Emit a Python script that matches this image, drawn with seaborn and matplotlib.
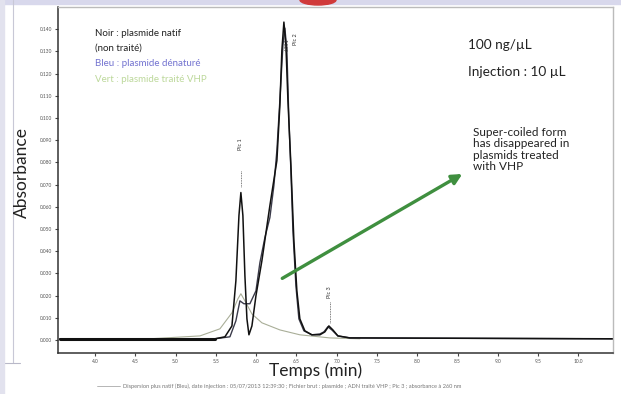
import numpy as np
import pandas as pd
import matplotlib
matplotlib.use("Agg")
import matplotlib.pyplot as plt
from matplotlib.patches import Rectangle, Ellipse
from matplotlib.lines import Line2D
import seaborn as sns

# ─── DATA ────────────────────────────────────────────────────────────────────

# native plasmid (black)
t_native = [3.566, 5.489, 5.613, 5.700, 5.749, 5.787, 5.811, 5.836, 5.861, 5.886,
            5.911, 5.948, 5.998, 6.072, 6.171, 6.258, 6.295, 6.320, 6.345, 6.370,
            6.395, 6.432, 6.469, 6.506, 6.543, 6.605, 6.692, 6.792, 6.853, 6.903,
            6.953, 7.015, 7.164, 10.43]
a_native = [0.0005, 0.0005, 0.0014, 0.0063, 0.0266, 0.0560, 0.0664, 0.0560, 0.0289, 0.0095,
            0.0023, 0.0063, 0.0199, 0.0357, 0.0605, 0.0808, 0.1057, 0.1305, 0.1432, 0.1328,
            0.1080, 0.0786, 0.0447, 0.0221, 0.0095, 0.0041, 0.0023, 0.0023, 0.0036, 0.0063,
            0.0045, 0.0018, 0.0009, 0.0005]

# treated plasmid (dark blue-grey)
t_treated = [3.566, 5.489, 5.675, 5.749, 5.799, 5.848, 5.923, 5.998, 6.047, 6.109,
             6.171, 6.221, 6.258, 6.295, 6.333, 6.357, 6.382, 6.407, 6.432, 6.457,
             6.494, 6.531, 6.593, 6.692, 6.792, 6.841, 6.891, 6.940, 7.015, 7.164, 10.43]
a_treated = [0.0005, 0.0005, 0.0014, 0.0086, 0.0176, 0.0163, 0.0163, 0.0221, 0.0348, 0.0461,
             0.0551, 0.0696, 0.0854, 0.1080, 0.1328, 0.1405, 0.1305, 0.0989, 0.0763, 0.0492,
             0.0244, 0.0095, 0.0041, 0.0023, 0.0027, 0.0036, 0.0059, 0.0045, 0.0018, 0.0009,
             0.0005]

# third trace (light green-grey)
t_light = [4.682, 5.303, 5.551, 5.700, 5.774, 5.811, 5.861, 5.948, 6.072, 6.295,
           6.543, 6.915, 7.288]
a_light = [0.0005, 0.0018, 0.0050, 0.0122, 0.0185, 0.0208, 0.0176, 0.0117, 0.0077, 0.0045,
           0.0023, 0.0009, 0.0005]

x_ticks = [4.0, 4.5, 5.0, 5.5, 6.0, 6.5, 7.0, 7.5, 8.0, 8.5, 9.0, 9.5, 10.0]
y_ticks = [0.00, 0.01, 0.02, 0.03, 0.04, 0.05, 0.06, 0.07, 0.08, 0.09,
           0.10, 0.11, 0.12, 0.13, 0.14]

legend_lines = ["Noir : plasmide natif", "(non traité)",
                "Bleu : plasmide dénaturé", "Vert : plasmide traité VHP"]
legend_colors = ["#222222", "#222222", "#7373d0", "#bcd89a"]

# ─── FIGURE ──────────────────────────────────────────────────────────────────

sns.set_theme(style="white")
plt.rcParams["font.family"] = ["Lato", "DejaVu Sans"]

fig = plt.figure(figsize=(6.21, 3.94), dpi=100, facecolor="white")
ax = fig.add_axes([58 / 621, 1 - 353 / 394, 555 / 621, 346 / 394])

sns.lineplot(x=t_light, y=a_light, ax=ax, color="#a9ae98", lw=0.8, estimator=None)
sns.lineplot(x=t_treated, y=a_treated, ax=ax, color="#3b3b4a", lw=1.0, estimator=None)
sns.lineplot(x=t_native, y=a_native, ax=ax, color="#111111", lw=1.1, estimator=None)
# thick baseline at the start of the run
ax.plot(t_native[:2], a_native[:2], color="#111111", lw=2.2)

ax.set_xlim(3.541, 10.43)
ax.set_ylim(-0.0059, 0.150)
ax.set_xticks(x_ticks)
ax.set_yticks(y_ticks)
ax.set_xticklabels([f"{v:.1f}" for v in x_ticks], fontsize=3.5, color="#555555")
ax.set_yticklabels([f"{v:.3f}" for v in y_ticks], fontsize=3.5, color="#555555")
ax.tick_params(axis="both", direction="out", length=2.5, width=0.8, colors="#444444",
               labelcolor="#555555", pad=1.5, bottom=True, left=True)
ax.set_xlabel("")
ax.set_ylabel("")
for side in ["left", "bottom"]:
    ax.spines[side].set_color("#333333")
    ax.spines[side].set_linewidth(1.1)
for side in ["top", "right"]:
    ax.spines[side].set_color("#bbbbbb")
    ax.spines[side].set_linewidth(1.0)

# peak labels
ax.text(5.811, 0.0854, "Pic 1", rotation=90, fontsize=4, ha="center", va="bottom", color="#333333")
ax.plot([5.811, 5.811], [0.0760, 0.0690], ls=(0, (1, 1)), color="#555555", lw=0.6)
ax.text(6.49, 0.1330, "Pic 2", rotation=90, fontsize=4, ha="center", va="bottom", color="#333333")
ax.text(6.39, 0.1300, "6.351", rotation=90, fontsize=3.5, ha="center", va="bottom", color="#333333")
ax.text(6.915, 0.0190, "Pic 3", rotation=90, fontsize=4, ha="center", va="bottom", color="#333333")
ax.plot([6.915, 6.915], [0.0170, 0.0075], ls=(0, (1, 1)), color="#555555", lw=0.6)

# legend-like text in the top left
for i, (txt, col) in enumerate(zip(legend_lines, legend_colors)):
    ax.text(4.0, 0.1382 - i * 0.0069, txt, fontsize=7, color=col, va="center", ha="left")

ax.text(8.63, 0.1328, "100 ng/µL", fontsize=9.8, color="#222222", va="center")
ax.text(8.63, 0.1206, "Injection : 10 µL", fontsize=9.8, color="#222222", va="center")
ax.text(8.69, 0.0960, "Super-coiled form\nhas disappeared in\nplasmids treated\nwith VHP",
        fontsize=8.5, color="#222222", va="top", ha="left", linespacing=1.05)

ax.annotate("", xy=(8.59, 0.0754), xytext=(6.295, 0.0271),
            arrowprops=dict(arrowstyle="-|>,head_length=0.5,head_width=0.25",
                            color="#3f8f3f", lw=2.4))

# labels outside the frame
fig.text(22 / 621, 1 - 172 / 394, "Absorbance", rotation=90, fontsize=12.5,
         ha="center", va="center", color="#222222")
fig.text(316 / 621, 1 - 371 / 394, "Temps (min)", fontsize=12.5,
         ha="center", va="center", color="#222222")
fig.text(123 / 621, 1 - 386 / 394,
         "Dispersion plus natif (Bleu), date injection : 05/07/2013 12:39:30 ; "
         "Fichier brut : plasmide ; ADN traité VHP ; Pic 3 ; absorbance à 260 nm",
         fontsize=4.1, ha="left", va="center", color="#777777")
fig.add_artist(Line2D([97 / 621, 120 / 621], [1 - 386 / 394] * 2, color="#aaaaaa", lw=0.6))

# window frame decorations
fig.add_artist(Rectangle((0, 1 - 4 / 394), 1, 4 / 394, color="#d8d8ec", transform=fig.transFigure))
fig.add_artist(Rectangle((0, 0), 4 / 621, 1, color="#e2e2ee", transform=fig.transFigure))
fig.add_artist(Line2D([13 / 621, 13 / 621], [1 - 363 / 394, 1], color="#c8c8d6", lw=0.8))
fig.add_artist(Line2D([5 / 621, 20 / 621], [1 - 363 / 394] * 2, color="#b8b8c8", lw=0.8))
fig.add_artist(Ellipse((318 / 621, 1.0), 36 / 621, 10 / 394, color="#d03a3a",
                       transform=fig.transFigure))

plt.savefig("out.png", dpi=100, facecolor="white")
plt.close()
